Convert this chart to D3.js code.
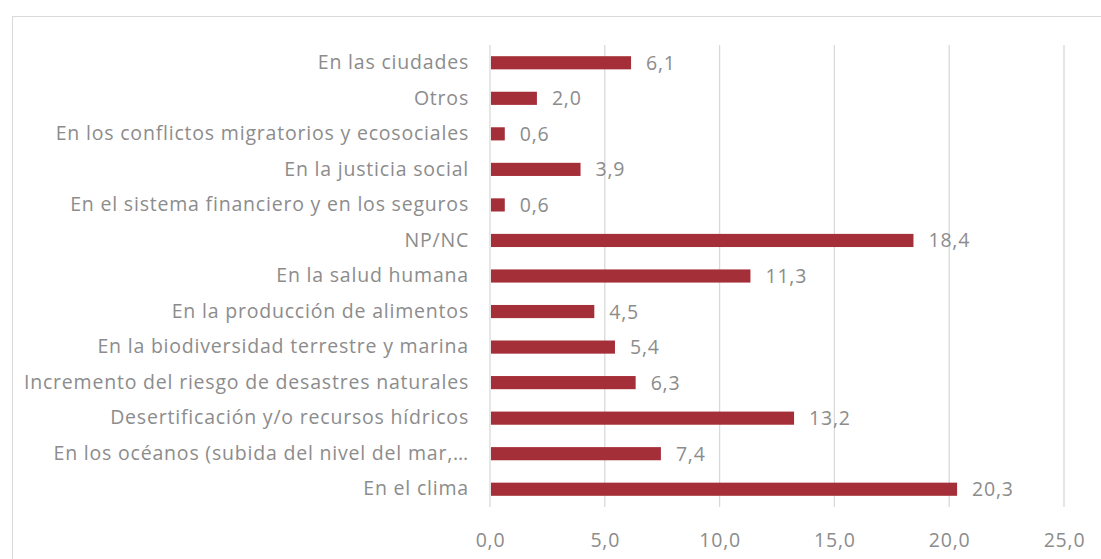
<!DOCTYPE html>
<html>
<head>
<meta charset="utf-8">
<script src="https://cdn.jsdelivr.net/npm/d3@7"></script>
<style>
  body { margin: 0; background: #fff; }
  svg text { font-family: "Open Sans", sans-serif; fill: #8c8c8c; font-variant-ligatures: none; letter-spacing: 0.8px; }
</style>
</head>
<body>
<svg id="chart" width="1101" height="559"></svg>
<script>
// Categories, top to bottom as shown
const categories = [
  'En las ciudades',
  'Otros',
  'En los conflictos migratorios y ecosociales',
  'En la justicia social',
  'En el sistema financiero y en los seguros',
  'NP/NC',
  'En la salud humana',
  'En la producción de alimentos',
  'En la biodiversidad terrestre y marina',
  'Incremento del riesgo de desastres naturales',
  'Desertificación y/o recursos hídricos',
  'En los océanos (subida del nivel del mar,…',
  'En el clima',
];
const values = [6.1, 2.0, 0.6, 3.9, 0.6, 18.4, 11.3, 4.5, 5.4, 6.3, 13.2, 7.4, 20.3];
const xTicks = [0, 5, 10, 15, 20, 25];

const svg = d3.select('#chart');
const margin = { top: 45, left: 490 };
const innerWidth = 574;
const innerHeight = 462;
const fontSize = 19.5;
const fmt = (v) => v.toFixed(1).replace('.', ',');

// Chart frame
svg.append('rect')
  .attr('x', 12.5).attr('y', 16.5)
  .attr('width', 1100).attr('height', 560)
  .attr('fill', 'none')
  .attr('stroke', '#d9d9d9');

const g = svg.append('g')
  .attr('transform', `translate(${margin.left},${margin.top})`);

const x = d3.scaleLinear().domain([0, 25]).range([0, innerWidth]);
const y = d3.scaleBand().domain(categories).range([0, innerHeight]).paddingInner(0.63).paddingOuter(0.315);

// Vertical gridlines
g.append('g')
  .selectAll('line')
  .data(xTicks)
  .join('line')
  .attr('x1', (d) => x(d)).attr('x2', (d) => x(d))
  .attr('y1', 0).attr('y2', innerHeight)
  .attr('stroke', '#d9d9d9')
  .attr('stroke-width', 1.3);

// Bottom axis labels
const xAxis = d3.axisBottom(x).tickValues(xTicks).tickFormat(fmt).tickSize(0).tickPadding(26);
const xAxisGroup = g.append('g')
  .attr('transform', `translate(0,${innerHeight})`)
  .call(xAxis);
xAxisGroup.select('.domain').remove();
xAxisGroup.selectAll('text').attr('font-size', fontSize).attr('fill', '#8c8c8c').style('font-family', null);

// Left axis labels
const yAxis = d3.axisLeft(y).tickSize(0).tickPadding(21);
const yAxisGroup = g.append('g').call(yAxis);
yAxisGroup.select('.domain').remove();
yAxisGroup.selectAll('text').attr('font-size', fontSize).attr('fill', '#8c8c8c').style('font-family', null);

// Bars
g.append('g')
  .selectAll('rect')
  .data(values)
  .join('rect')
  .attr('x', x(0) + 1)
  .attr('y', (d, i) => y(categories[i]))
  .attr('width', (d) => x(d) - x(0))
  .attr('height', y.bandwidth())
  .attr('fill', '#a52f38');

// Value labels
g.append('g')
  .selectAll('text')
  .data(values)
  .join('text')
  .attr('x', (d) => x(d) + 16)
  .attr('y', (d, i) => y(categories[i]) + y.bandwidth() / 2)
  .attr('dy', '0.36em')
  .attr('font-size', fontSize)
  .text(fmt);
</script>
</body>
</html>
